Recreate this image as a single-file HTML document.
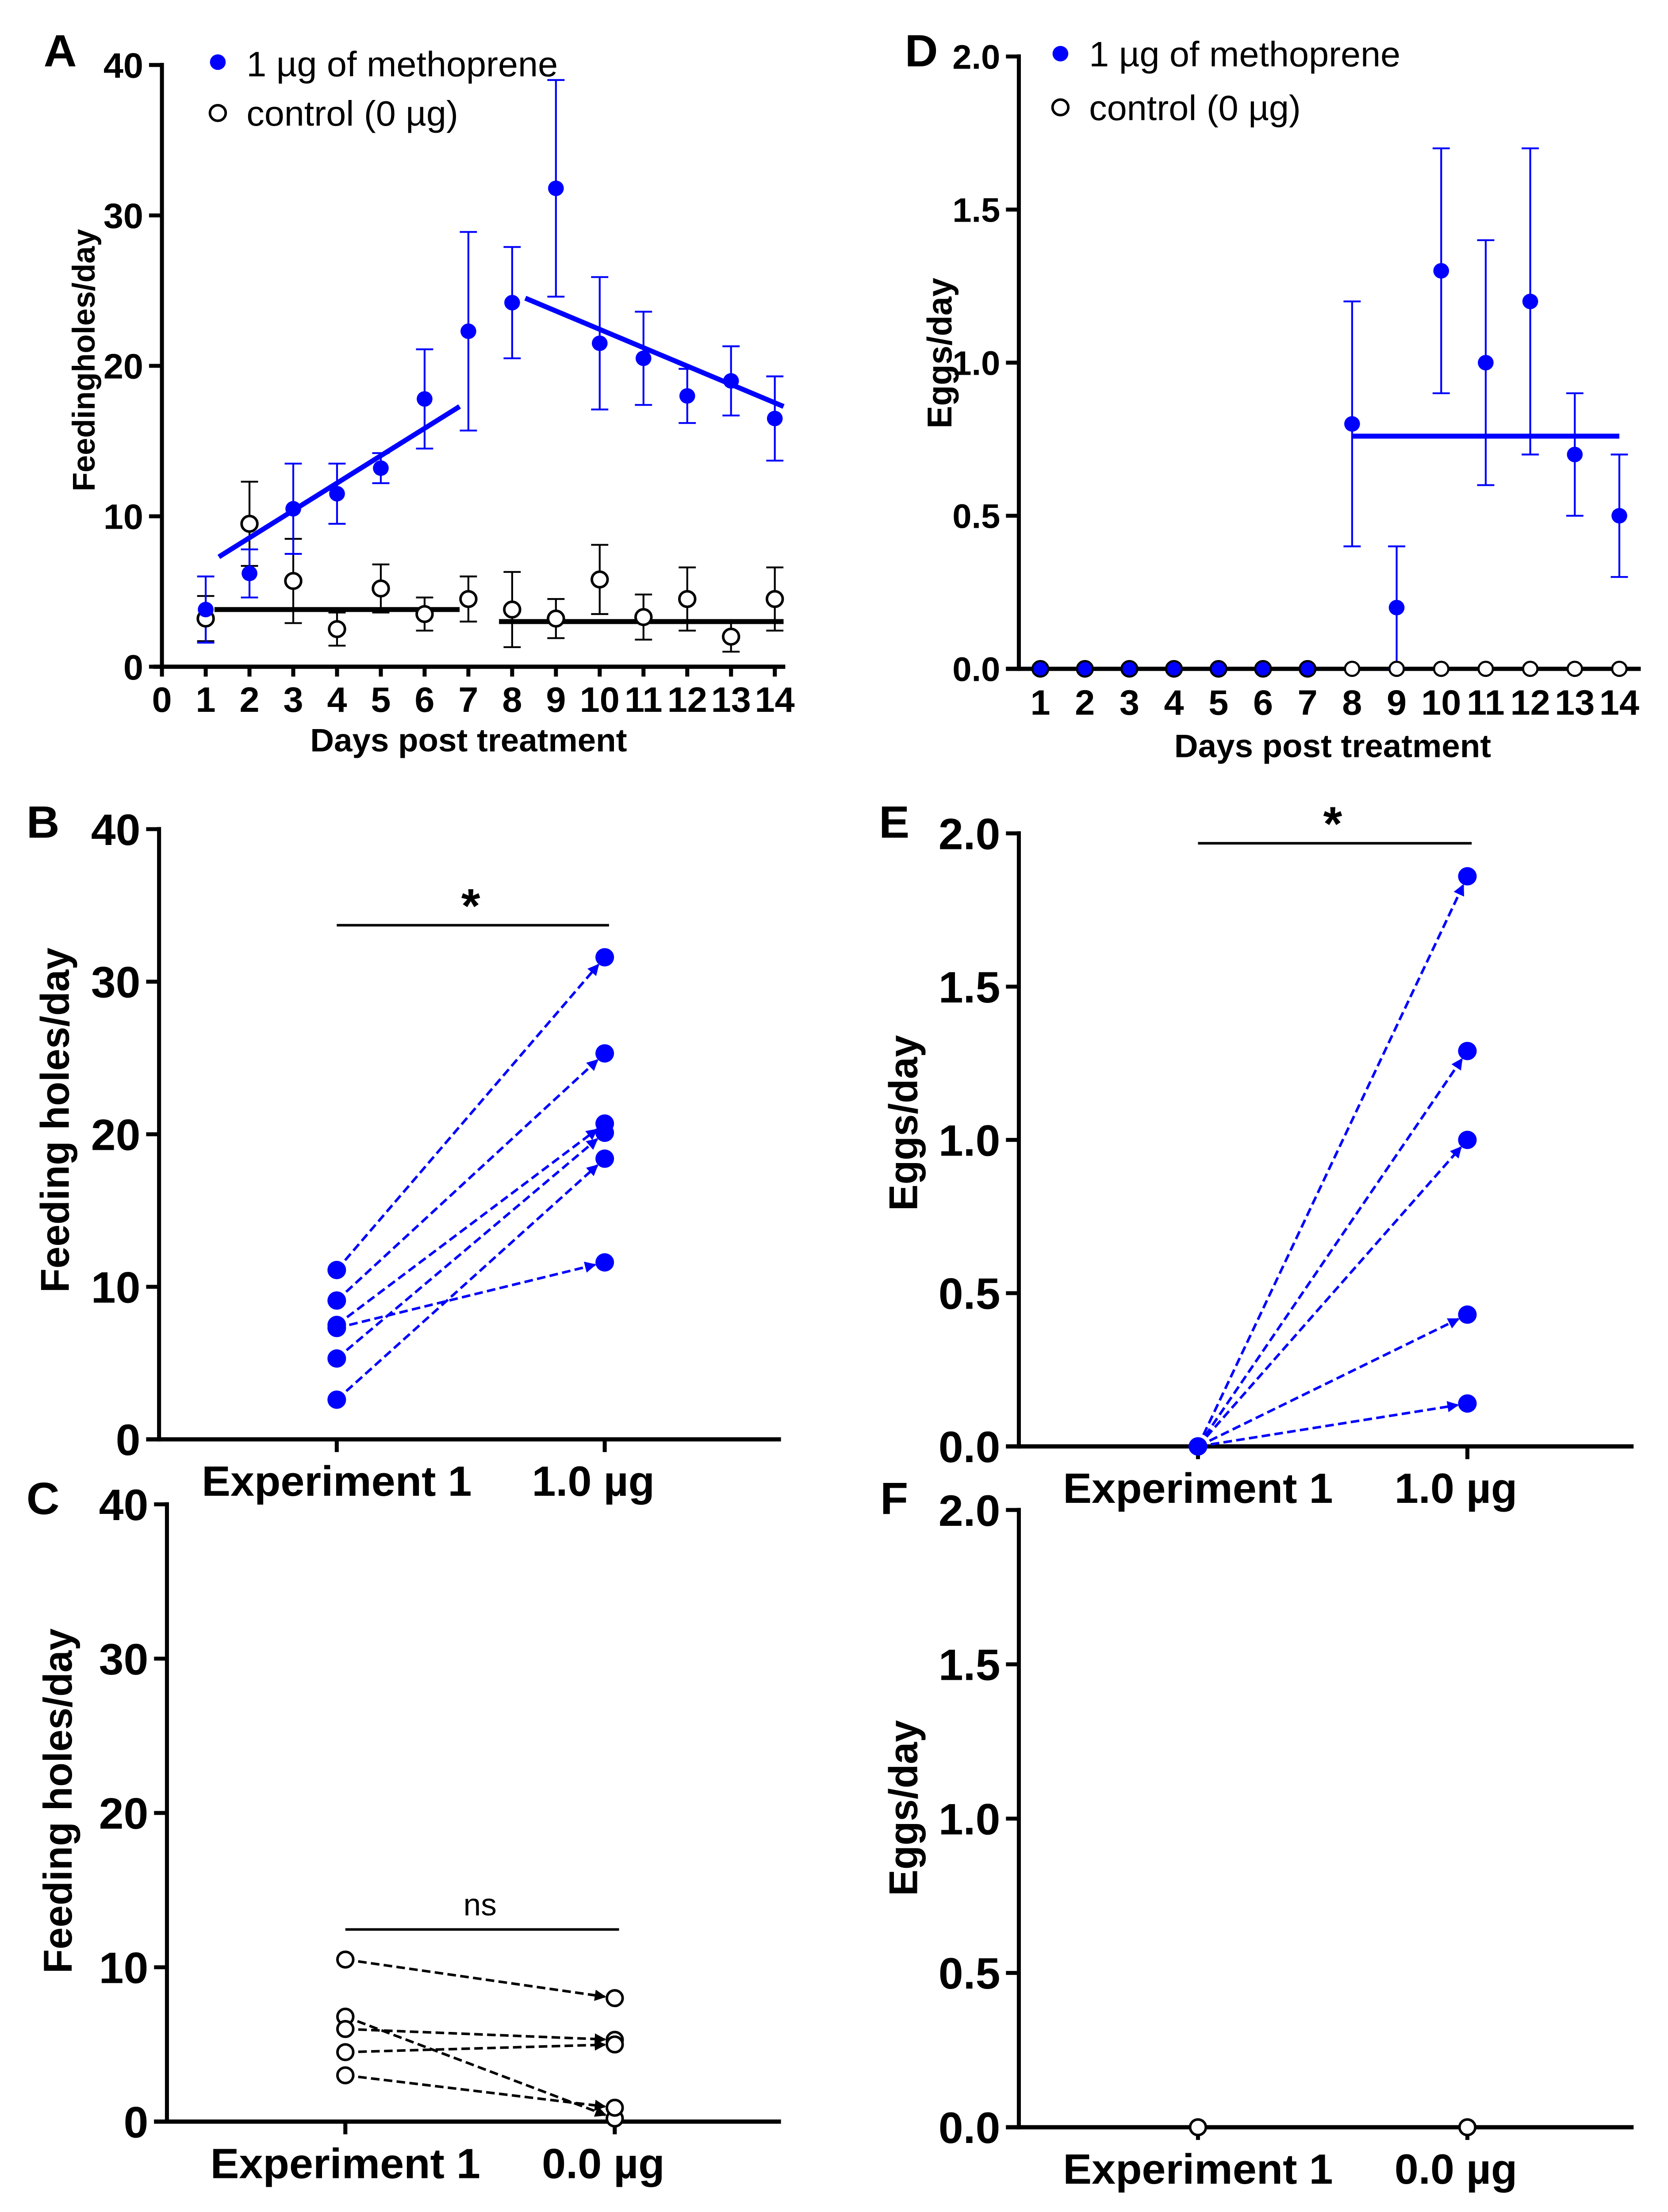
<!DOCTYPE html>
<html><head><meta charset="utf-8"><style>
html,body{margin:0;padding:0;background:#fff;overflow:hidden;width:100%;height:100%}
svg{display:block;width:100vw;height:100vh}
text{font-family:"Liberation Sans",Arial,sans-serif;font-weight:bold;fill:#000}
</style></head><body>
<svg id="fig" viewBox="0 0 1164 1566" preserveAspectRatio="none" xmlns="http://www.w3.org/2000/svg">
<defs>
<marker id="arB" markerWidth="8" markerHeight="8" refX="7" refY="4" orient="auto" markerUnits="userSpaceOnUse"><path d="M0,0 L8,4 L0,8 z" fill="#0000ff"/></marker>
<marker id="arK" markerWidth="8" markerHeight="8" refX="7" refY="4" orient="auto" markerUnits="userSpaceOnUse"><path d="M0,0 L8,4 L0,8 z" fill="#000"/></marker>
</defs>
<g id="root"></g>
</svg>
<script>
// Panel A data
const daysA = [1,2,3,4,5,6,7,8,9,10,11,12,13,14];
const methA = [3.8,6.2,10.5,11.5,13.2,17.8,22.3,24.2,31.8,21.5,20.5,18.0,19.0,16.5];
const methAErr = [2.2,1.6,3.0,2.0,1.0,3.3,6.6,3.7,7.2,4.4,3.1,1.8,2.3,2.8];
const ctrlA = [3.2,9.5,5.7,2.5,5.2,3.5,4.5,3.8,3.2,5.8,3.3,4.5,2.0,4.5];
const ctrlAErr = [1.5,2.8,2.8,1.1,1.6,1.1,1.5,2.5,1.3,2.3,1.5,2.1,1.0,2.1];
const fitA = [[1.3,7.3,6.8,17.3,'#0000ff'],[8.3,24.5,14.2,17.3,'#0000ff'],[1.2,3.8,6.8,3.8,'#000'],[7.7,3.0,14.2,3.0,'#000']];
// Panel D data
const methD = [0,0,0,0,0,0,0,0.8,0.2,1.3,1.0,1.2,0.7,0.5];
const methDErr = [0,0,0,0,0,0,0,0.4,0.2,0.4,0.4,0.5,0.2,0.2];
const ctrlD = [0,0,0,0,0,0,0,0,0,0,0,0,0,0];
const fitD = [[8,0.76,14,0.76]];
// Paired panels
const bBefore = [11.1,9.1,7.5,7.3,5.3,2.6];
const bAfter = [31.6,25.3,20.7,11.6,20.1,18.4];
const cBefore = [10.5,6.8,6.0,4.5,3.0];
const cAfter = [8.0,0.2,5.3,5.0,0.9];
const eBefore = [0,0,0,0,0];
const eAfter = [1.86,1.29,1.0,0.43,0.14];
const fBefore = [0];
const fAfter = [0];
const ticksFeed = [0,10,20,30,40];
const ticksEggs = ['0.0','0.5','1.0','1.5','2.0'];

const NS='http://www.w3.org/2000/svg';
const root=document.getElementById('root');
function el(tag,attrs,parent,txt){const e=document.createElementNS(NS,tag);for(const k in attrs)e.setAttribute(k,attrs[k]);if(txt!==undefined)e.textContent=txt;(parent||root).appendChild(e);return e;}

function axes(g,ax,ay0,ay1,xStart,xEnd,ticks,vmax,fs){
  const l=el('line',{x1:ax,y1:ay1-1.5,x2:ax,y2:ay0+1.5,stroke:'#000','stroke-width':2.8},g);
  
  
  const xl=el('line',{x1:xStart,y1:ay0,x2:xEnd,y2:ay0,stroke:'#000','stroke-width':3},g);
  
  
  ticks.forEach(t=>{const y=ay0-(parseFloat(t)/vmax)*(ay0-ay1);
    el('line',{x1:ax-9,y1:y,x2:ax,y2:y,stroke:'#000','stroke-width':2.8},g);
    const tx=el('text',{x:ax-13,y:y+fs*0.36,'text-anchor':'end','font-size':fs},g,String(t));
    
    
  });
}
function label(txt,x,y,fs,name,rot){const t=el('text',{x:x,y:y,'font-size':fs,'text-anchor':'middle'},root,txt);
  if(rot)t.setAttribute('transform','rotate(-90 '+x+' '+y+')');
  
  return t;}

// ---------- Panel A ----------
(function(){
  const g=el('g',{});
  
  
  const x0=113,dx=30.55,y0=472,y1=46,vmax=40;
  const X=d=>x0+d*dx, Y=v=>y0-v/vmax*(y0-y1);
  axes(g,x0,y0,y1,107,548,ticksFeed,vmax,25);
  for(let d=0;d<=14;d++){el('line',{x1:X(d),y1:y0,x2:X(d),y2:y0+7,stroke:'#000','stroke-width':2.8},g);
    const t=el('text',{x:X(d),y:504,'text-anchor':'middle','font-size':25},g,String(d));
    
    }
  daysA.forEach((d,i)=>{
    [[ctrlA[i],ctrlAErr[i],'#000'],[methA[i],methAErr[i],'#0000ff']].forEach(([v,e,c])=>{
      el('line',{x1:X(d),y1:Y(v-e),x2:X(d),y2:Y(v+e),stroke:c,'stroke-width':1.3},g);
      el('line',{x1:X(d)-6,y1:Y(v-e),x2:X(d)+6,y2:Y(v-e),stroke:c,'stroke-width':1.3},g);
      el('line',{x1:X(d)-6,y1:Y(v+e),x2:X(d)+6,y2:Y(v+e),stroke:c,'stroke-width':1.3},g);
    });
  });
  fitA.forEach(f=>{const l=el('line',{x1:X(f[0]),y1:Y(f[1]),x2:X(f[2]),y2:Y(f[3]),stroke:f[4],'stroke-width':3.5},g);
    
    });
  daysA.forEach((d,i)=>{
    const c=el('circle',{cx:X(d),cy:Y(ctrlA[i]),r:5.5,fill:'#fff',stroke:'#000','stroke-width':1.8},g);
    
    
    const m=el('circle',{cx:X(d),cy:Y(methA[i]),r:5.5,fill:'#0000ff'},g);
    
    
  });
  el('circle',{cx:152,cy:44,r:5.5,fill:'#0000ff'},g);
  el('circle',{cx:152,cy:80,r:5.5,fill:'#fff',stroke:'#000','stroke-width':1.8},g);
  const l1=el('text',{x:172,y:54,'font-size':25,style:'font-weight:normal'},g,'1 µg of methoprene');
  
  
  const l2=el('text',{x:172,y:89,'font-size':25,style:'font-weight:normal'},g,'control (0 µg)');
  
  
})();
label('A',42,47,32,'panel-label-a');
label('Feedingholes/day',66,255,22,'y-axis-title-a',true);
label('Days post treatment',327,532,23,'x-axis-title-a');

// ---------- Panel D ----------
(function(){
  const g=el('g',{});
  
  
  const x0=726-31.08,dx=31.08,y0=473.5,y1=40,vmax=2;
  const X=d=>x0+d*dx, Y=v=>y0-v/vmax*(y0-y1);
  axes(g,711,y0,y1,702,1145,ticksEggs,vmax,24);
  for(let d=1;d<=14;d++){
    const t=el('text',{x:X(d),y:506,'text-anchor':'middle','font-size':25},g,String(d));
    
    }
  daysA.forEach((d,i)=>{const v=methD[i],e=methDErr[i];if(e>0){
    el('line',{x1:X(d),y1:Y(v-e),x2:X(d),y2:Y(v+e),stroke:'#0000ff','stroke-width':1.3},g);
    el('line',{x1:X(d)-6,y1:Y(v-e),x2:X(d)+6,y2:Y(v-e),stroke:'#0000ff','stroke-width':1.3},g);
    el('line',{x1:X(d)-6,y1:Y(v+e),x2:X(d)+6,y2:Y(v+e),stroke:'#0000ff','stroke-width':1.3},g);}});
  fitD.forEach(f=>{const l=el('line',{x1:X(f[0]),y1:Y(f[1]),x2:X(f[2]),y2:Y(f[3]),stroke:'#0000ff','stroke-width':3.5},g);
    
    });
  daysA.forEach((d,i)=>{
    const c=el('circle',{cx:X(d),cy:Y(ctrlD[i]),r:5,fill:'#fff',stroke:'#000','stroke-width':1.5},g);
    
    
    if(i<7||methD[i]>0){const m=el('circle',{cx:X(d),cy:Y(methD[i]),r:5.5,fill:'#0000ff',stroke:i<7?'#000':'none','stroke-width':1.5},g);
    
    }
  });
  el('circle',{cx:740,cy:38,r:5.5,fill:'#0000ff'},g);
  el('circle',{cx:740,cy:76,r:5.5,fill:'#fff',stroke:'#000','stroke-width':1.8},g);
  const l1=el('text',{x:760,y:47,'font-size':25,style:'font-weight:normal'},g,'1 µg of methoprene');
  
  
  const l2=el('text',{x:760,y:85,'font-size':25,style:'font-weight:normal'},g,'control (0 µg)');
  
  
})();
label('D',643,47,32,'panel-label-d');
label('Eggs/day',664,250,24,'y-axis-title-d',true);
label('Days post treatment',930,536,23,'x-axis-title-d');

// ---------- paired panels ----------
function paired(name,ax,y0,y1,xEnd,xa,xb,ticks,vmax,before,after,color,open,sig,sigY,afterLbl){
  const g=el('g',{});
  
  
  const Y=v=>y0-v/vmax*(y0-y1);
  axes(g,ax,y0,y1,ax-9,xEnd,ticks,vmax,31);
  [xa,xb].forEach(x=>el('line',{x1:x,y1:y0,x2:x,y2:y0+9,stroke:'#000','stroke-width':2.8},g));
  const t1=el('text',{x:xa,y:y0+40,'text-anchor':'middle','font-size':30},g,'Experiment 1');
  
  
  const t2=el('text',{x:xb-8,y:y0+40,'text-anchor':'middle','font-size':30},g,afterLbl);
  
  
  before.forEach((b,i)=>{
    const x1=xa,yA=Y(b),x2=xb,yB=Y(after[i]);
    if(b===after[i])return;
    const dxl=x2-x1,dyl=yB-yA,len=Math.hypot(dxl,dyl),sh=7;
    const l=el('line',{x1:x1,y1:yA,x2:x2-dxl/len*sh,y2:yB-dyl/len*sh,stroke:color,'stroke-width':1.8,'stroke-dasharray':'6,3','marker-end':color==='#000'?'url(#arK)':'url(#arB)'},g);
    
    
  });
  before.forEach((b,i)=>{
    [[xa,b],[xb,after[i]]].forEach(([x,v])=>{
      const c=el('circle',{cx:x,cy:Y(v),r:open?5.5:6.5,fill:open?'#fff':color,stroke:open?'#000':'none','stroke-width':1.8},g);
      
      
    });
  });
  if(sig){
    el('line',{x1:xa,y1:sigY,x2:xb+3,y2:sigY,stroke:'#000','stroke-width':1.8},g);
    const s=el('text',{x:(xa+xb)/2,y:sig==='*'?sigY-2:sigY-10,'text-anchor':'middle','font-size':sig==='*'?34:22,style:sig==='*'?'':'font-weight:normal'},g,sig);
    
    
  }
}
paired('panel-b',111,1019,587,545,235,422,ticksFeed,40,bBefore,bAfter,'#0000ff',false,'*',655,'1.0 µg');
label('B',30,593,32,'panel-label-b');
label('Feeding holes/day',48,793,28,'y-axis-title-b',true);
paired('panel-c',116.5,1502,1065,545,241,429,ticksFeed,40,cBefore,cAfter,'#000',true,'ns',1366,'0.0 µg');
label('C',30,1072,32,'panel-label-c');
label('Feeding holes/day',50,1275,28,'y-axis-title-c',true);
paired('panel-e',711,1024,590,1140,836,1024,ticksEggs,2,eBefore,eAfter,'#0000ff',false,'*',597,'1.0 µg');
label('E',624,593,32,'panel-label-e');
label('Eggs/day',640,795,28,'y-axis-title-e',true);
paired('panel-f',711,1506,1069,1140,836,1024,ticksEggs,2,fBefore,fAfter,'#000',true,null,0,'0.0 µg');
label('F',624,1072,32,'panel-label-f');
label('Eggs/day',640,1280,28,'y-axis-title-f',true);
</script>
</body></html>
